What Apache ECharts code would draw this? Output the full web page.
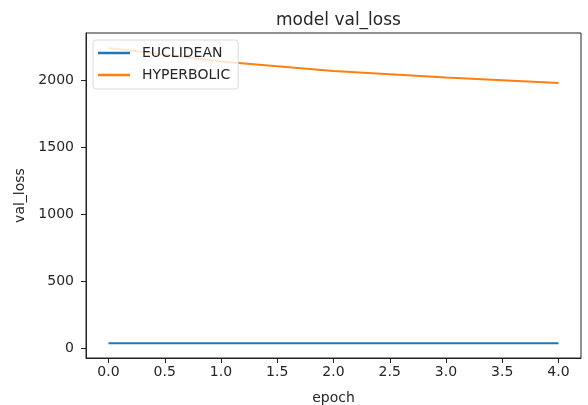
<!DOCTYPE html>
<html>
<head>
<meta charset="utf-8">
<script src="https://cdn.jsdelivr.net/npm/echarts@6/dist/echarts.min.js"></script>
<style>
  html, body { margin: 0; padding: 0; background: #fff; }
  #main { width: 588px; height: 405px; }
</style>
</head>
<body>
<div id="main"></div>
<script>
// epochs and per-series val_loss
var epochs = [0, 1, 2, 3, 4];
var euclidean = [36, 36, 35, 35, 35];
var hyperbolic = [2240, 2138, 2068, 2019, 1978];
var xTicks = [0, 0.5, 1, 1.5, 2, 2.5, 3, 3.5, 4];
var yTicks = [0, 500, 1000, 1500, 2000];

var font = 'DejaVu Sans';
var ink = '#262626';

function pairs(ys) {
    return epochs.map(function (x, i) { return [x, ys[i]]; });
}

var myChart = echarts.init(document.getElementById('main'));

var option = {
    animation: false,
    backgroundColor: '#fff',
    title: {
        text: 'model val_loss',
        left: 333.5,
        textAlign: 'center',
        top: 7,
        textStyle: { fontFamily: font, fontSize: 17, fontWeight: 'normal', color: ink }
    },
    legend: {
        orient: 'vertical',
        left: 93,
        top: 40,
        padding: [6, 8, 7, 5],
        icon: 'rect',
        itemWidth: 32,
        itemHeight: 2.5,
        itemGap: 8,
        backgroundColor: 'rgba(255,255,255,0.8)',
        borderColor: '#d9d9d9',
        borderWidth: 1,
        borderRadius: 3,
        textStyle: { fontFamily: font, fontSize: 14, color: ink, padding: [0, 0, 0, 7], lineHeight: 14 },
        data: ['EUCLIDEAN', 'HYPERBOLIC']
    },
    grid: {
        left: 86, right: 7, top: 33, bottom: 47,
        outerBoundsMode: 'none',
        containLabel: false,
        show: true,
        borderColor: '#222',
        borderWidth: 1
    },
    xAxis: {
        type: 'value',
        min: -0.2,
        max: 4.2,
        name: 'epoch',
        nameLocation: 'middle',
        nameGap: 33,
        nameTextStyle: { fontFamily: font, fontSize: 14, color: ink },
        splitLine: { show: false },
        axisLine: { onZero: false, lineStyle: { color: '#222' } },
        axisTick: { show: true, length: 5, lineStyle: { color: '#222' }, customValues: xTicks },
        axisLabel: {
            fontFamily: font, fontSize: 14, color: ink, margin: 7,
            customValues: xTicks,
            formatter: function (v) { return v.toFixed(1); }
        }
    },
    yAxis: {
        type: 'value',
        min: -75,
        max: 2351,
        name: 'val_loss',
        nameLocation: 'middle',
        nameGap: 53,
        nameTextStyle: { fontFamily: font, fontSize: 14, color: ink },
        splitLine: { show: false },
        axisLine: { show: true, onZero: false, lineStyle: { color: '#222' } },
        axisTick: { show: true, length: 5, lineStyle: { color: '#222' }, customValues: yTicks },
        axisLabel: {
            fontFamily: font, fontSize: 14, color: ink, margin: 12,
            customValues: yTicks,
            formatter: function (v) { return String(v); }
        }
    },
    series: [
        {
            name: 'EUCLIDEAN',
            type: 'line',
            data: pairs(euclidean),
            symbol: 'none',
            color: '#1f77b4',
            lineStyle: { width: 2, color: '#1f77b4' }
        },
        {
            name: 'HYPERBOLIC',
            type: 'line',
            data: pairs(hyperbolic),
            symbol: 'none',
            color: '#ff7f0e',
            lineStyle: { width: 2, color: '#ff7f0e' }
        }
    ]
};

myChart.setOption(option);
</script>
</body>
</html>
